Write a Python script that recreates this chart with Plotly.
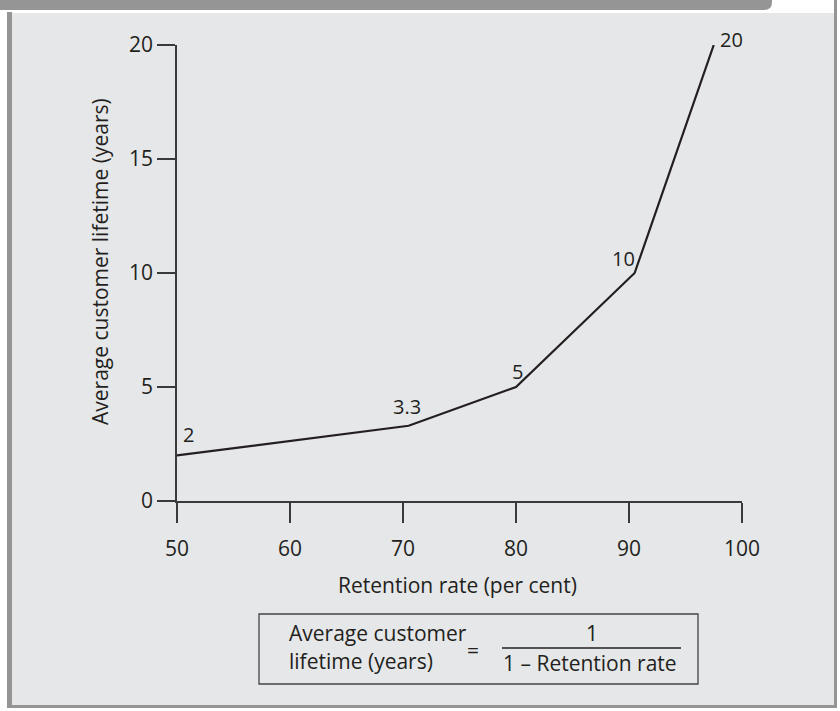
import plotly.graph_objects as go

# Retention rate (%) vs. average customer lifetime (years)
retention_rate = [50, 70.5, 80, 90.5, 97.5]
lifetime_years = [2, 3.3, 5, 10, 20]
point_labels = ["2", "3.3", "5", "10", "20"]
# label offsets (px) relative to each vertex
label_dx = [11, -2, 1, -11, 18]
label_dy = [21, 19, 16, 15, 6]

x_ticks = [50, 60, 70, 80, 90, 100]
y_ticks = [0, 5, 10, 15, 20]

W, H = 840, 711
L, R, T, B = 177, 98, 45, 210
FONT = "Open Sans"
INK = "#231f20"
BG = "#e6e7e8"
FRAME = "#959595"
TXT = 21


def px(x):
    return (x - L) / (W - L - R)


def py(y):
    return (H - B - y) / (H - T - B)


def note(x, y, text, size=TXT, xanchor="center", angle=0):
    return dict(x=px(x), y=py(y), xref="paper", yref="paper", text=text, showarrow=False,
                xanchor=xanchor, yanchor="middle", textangle=angle,
                font=dict(size=size, color=INK, family=FONT))


fig = go.Figure()
fig.add_trace(go.Scatter(
    x=retention_rate, y=lifetime_years, mode="lines",
    line=dict(color=INK, width=2.2), cliponaxis=False,
    hoverinfo="skip", showlegend=False,
))

annotations = []
for x, y, t, dx, dy in zip(retention_rate, lifetime_years, point_labels, label_dx, label_dy):
    annotations.append(dict(x=x, y=y, xref="x", yref="y", text=t, showarrow=False,
                            xanchor="center", yanchor="middle",
                            xshift=dx, yshift=dy, font=dict(size=20, color=INK, family=FONT)))

# axis titles
annotations.append(note(457, 585, "Retention rate (per cent)"))
annotations.append(note(100, 262, "Average customer lifetime (years)", angle=-90))

# formula box text
annotations += [
    note(287, 633, "Average customer", xanchor="left"),
    note(287, 661, "lifetime (years)", xanchor="left"),
    note(473, 650, "="),
    note(592, 633, "1"),
    note(590, 663, "1 – Retention rate"),
]

shapes = [
    # panel background
    dict(type="rect", xref="paper", yref="paper", x0=px(12), x1=px(834), y0=py(13), y1=py(706),
         fillcolor=BG, line=dict(width=0), layer="below"),
    # top bar with rounded corner
    dict(type="path", xref="paper", yref="paper", layer="below",
         path=(f"M {px(0)},{py(0)} L {px(772)},{py(0)} L {px(772)},{py(2)} "
               f"Q {px(772)},{py(10)} {px(764)},{py(10)} L {px(0)},{py(10)} Z"),
         fillcolor=FRAME, line=dict(width=0)),
    # left, right and bottom borders
    dict(type="rect", xref="paper", yref="paper", x0=px(7), x1=px(12), y0=py(12), y1=py(708),
         fillcolor=FRAME, line=dict(width=0), layer="below"),
    dict(type="rect", xref="paper", yref="paper", x0=px(834), x1=px(837), y0=py(0), y1=py(708),
         fillcolor=FRAME, line=dict(width=0), layer="below"),
    dict(type="rect", xref="paper", yref="paper", x0=px(7), x1=px(837), y0=py(705), y1=py(708),
         fillcolor=FRAME, line=dict(width=0), layer="below"),
    # formula box and fraction bar
    dict(type="rect", xref="paper", yref="paper", x0=px(259), x1=px(698), y0=py(614), y1=py(684),
         fillcolor="rgba(0,0,0,0)", line=dict(color="#444", width=1.3)),
    dict(type="line", xref="paper", yref="paper", x0=px(502), x1=px(681), y0=py(648), y1=py(648),
         line=dict(color=INK, width=1.3)),
]

axis_common = dict(showline=True, linecolor="#3a3a3a", linewidth=1.5, ticks="outside",
                   tickwidth=1.5, tickcolor="#3a3a3a", showgrid=False, zeroline=False,
                   tickfont=dict(size=21, color=INK, family=FONT))

fig.update_layout(
    width=W, height=H, margin=dict(l=L, r=R, t=T, b=B),
    paper_bgcolor="white", plot_bgcolor="rgba(0,0,0,0)",
    xaxis=dict(range=[50, 100], tickvals=x_ticks, ticklen=20, ticklabelstandoff=8, **axis_common),
    yaxis=dict(range=[0, 20], tickvals=y_ticks, ticklen=18, ticklabelstandoff=0, **axis_common),
    annotations=annotations, shapes=shapes, showlegend=False,
    font=dict(family=FONT, color=INK),
)

fig.write_html("out.html")
